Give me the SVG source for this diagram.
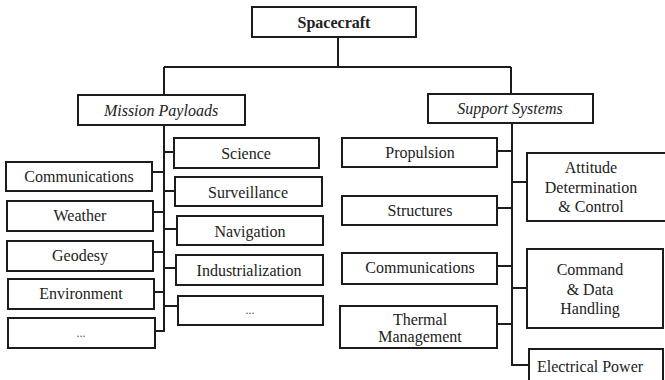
<svg xmlns="http://www.w3.org/2000/svg" width="665" height="380" viewBox="0 0 665 380">
<style>
  .box { fill: #fff; stroke: #1c1c1c; stroke-width: 2; }
  .wire { fill: none; stroke: #1c1c1c; stroke-width: 2; }
  .t { font-family: 'Liberation Serif', 'DejaVu Serif', serif; font-size: 16px; fill: #222; text-anchor: middle; }
  .bold { font-weight: bold; }
  .ital { font-style: italic; }
  .dots { font-size: 12px; fill: #555; }
</style>
<rect width="665" height="380" fill="#fff"/>
<g id="connectors">
  <path class="wire" d="M338 37 V67 M164 67 H511 M164 67 V95 M511 67 V94"/>
  <path class="wire" d="M164 125 V331 H155"/>
  <path class="wire" d="M152 172 H164 M153 212 H164 M153 252 H164 M154 292 H164"/>
  <path class="wire" d="M164 152 H174 M164 191 H175 M164 229 H177 M164 268 H176 M164 306 H178"/>
  <path class="wire" d="M512 123 V365 H529"/>
  <path class="wire" d="M497 151 H512 M497 208 H512 M497 266 H512 M497 324 H512"/>
  <path class="wire" d="M512 182 H527 M512 288 H527"/>
</g>
<g id="spacecraft"><rect class="box" x="252" y="7" width="164" height="30"/><text class="t bold" x="334" y="28">Spacecraft</text></g>
<g id="mission-payloads"><rect class="box" x="78" y="95" width="167" height="30"/><text class="t ital" x="161" y="116">Mission Payloads</text></g>
<g id="support-systems"><rect class="box" x="428" y="94" width="165" height="29"/><text class="t ital" x="510" y="114">Support Systems</text></g>

<g id="mp-communications"><rect class="box" x="6" y="162" width="146" height="29"/><text class="t" x="79" y="182">Communications</text></g>
<g id="mp-weather"><rect class="box" x="7" y="201" width="146" height="30"/><text class="t" x="80" y="221">Weather</text></g>
<g id="mp-geodesy"><rect class="box" x="7" y="241" width="146" height="30"/><text class="t" x="80" y="261">Geodesy</text></g>
<g id="mp-environment"><rect class="box" x="8" y="279" width="146" height="30"/><text class="t" x="81" y="299">Environment</text></g>
<g id="mp-more-left"><rect class="box" x="8" y="318" width="147" height="30"/><text class="t dots" x="81" y="337">...</text></g>

<g id="mp-science"><rect class="box" x="174" y="138" width="145" height="30"/><text class="t" x="246" y="159">Science</text></g>
<g id="mp-surveillance"><rect class="box" x="175" y="177" width="147" height="29"/><text class="t" x="248" y="198">Surveillance</text></g>
<g id="mp-navigation"><rect class="box" x="177" y="216" width="146" height="29"/><text class="t" x="250" y="237">Navigation</text></g>
<g id="mp-industrialization"><rect class="box" x="176" y="255" width="147" height="30"/><text class="t" x="249" y="276">Industrialization</text></g>
<g id="mp-more-right"><rect class="box" x="178" y="296" width="145" height="29"/><text class="t dots" x="250" y="314">...</text></g>

<g id="ss-propulsion"><rect class="box" x="342" y="138" width="155" height="29"/><text class="t" x="420" y="158">Propulsion</text></g>
<g id="ss-structures"><rect class="box" x="342" y="196" width="155" height="29"/><text class="t" x="420" y="216">Structures</text></g>
<g id="ss-communications"><rect class="box" x="342" y="253" width="155" height="31"/><text class="t" x="420" y="273">Communications</text></g>
<g id="ss-thermal"><rect class="box" x="340" y="306" width="157" height="42"/><text class="t" x="420" y="325">Thermal</text><text class="t" x="420" y="342">Management</text></g>

<g id="ss-attitude"><rect class="box" x="527" y="153" width="145" height="68"/><text class="t" x="591" y="173">Attitude</text><text class="t" x="591" y="193">Determination</text><text class="t" x="591" y="212">&amp; Control</text></g>
<g id="ss-command"><rect class="box" x="527" y="249" width="136" height="79"/><text class="t" x="590" y="275">Command</text><text class="t" x="590" y="295">&amp; Data</text><text class="t" x="590" y="314">Handling</text></g>
<g id="ss-electrical"><rect class="box" x="529" y="349" width="134" height="46"/><text class="t" x="590" y="372">Electrical Power</text></g>
</svg>
